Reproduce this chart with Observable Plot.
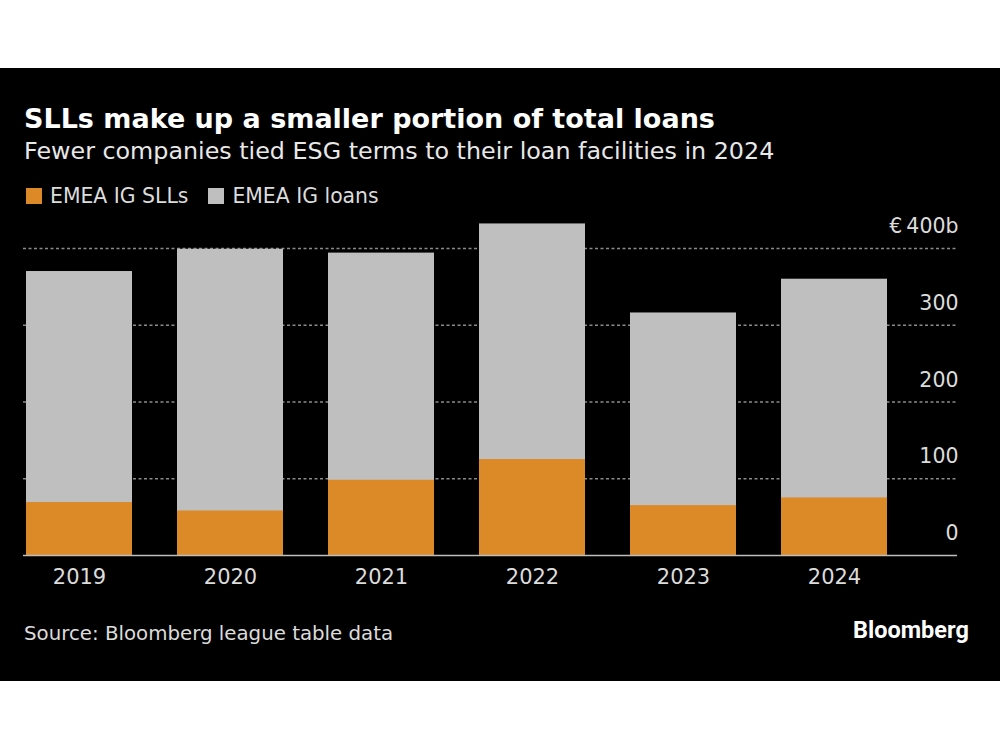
<!DOCTYPE html>
<html>
<head>
<meta charset="utf-8">
<script src="https://cdn.jsdelivr.net/npm/d3@7"></script>
<script src="https://cdn.jsdelivr.net/npm/@observablehq/plot@0.6"></script>
<style>
  html, body { margin: 0; padding: 0; background: #fff; width: 1000px; height: 750px; overflow: hidden; }
  #panel { position: absolute; left: 0; top: 68px; width: 1000px; height: 613px; background: #000; }
  .t { position: absolute; white-space: nowrap; font-family: "DejaVu Sans", sans-serif; }
  #title { left: 24px; top: 103px; font-size: 27px; font-weight: bold; color: #fff; }
  #subtitle { left: 24px; top: 137px; font-size: 23.8px; color: #e8e8e8; }
  #legend { left: 26px; top: 184px; font-size: 20.4px; color: #dcdcdc; display: flex; align-items: center; }
  .sw { display: inline-block; width: 16px; height: 16px; margin-right: 8px; }
  .item { display: flex; align-items: center; margin-right: 20px; }
  #chart { position: absolute; left: 0; top: 210px; }
  #source { left: 24px; top: 622px; font-size: 19.8px; color: #dcdcdc; }
  #logo { left: 853px; top: 616px; font-size: 23.5px; font-weight: bold; color: #fff; font-family: Roboto, "DejaVu Sans", sans-serif; }
</style>
</head>
<body>
<div id="panel"></div>
<div class="t" id="title">SLLs make up a smaller portion of total loans</div>
<div class="t" id="subtitle">Fewer companies tied ESG terms to their loan facilities in 2024</div>
<div class="t" id="legend"></div>
<div id="chart"></div>
<div class="t" id="source">Source: Bloomberg league table data</div>
<div class="t" id="logo">Bloomberg</div>
<script>
const years = ["2019", "2020", "2021", "2022", "2023", "2024"];
const igLoans = [370, 399, 394, 432, 316, 360];
const igSLLs = [69, 58, 98, 125, 65, 75];
const yTicks = [0, 100, 200, 300, 400];
const seriesNames = ["EMEA IG SLLs", "EMEA IG loans"];
const seriesColors = ["#db8a27", "#bfbfbf"];

const rows = years.map((y, i) => ({year: y, loans: igLoans[i], slls: igSLLs[i]}));

// legend
const legend = document.getElementById("legend");
seriesNames.forEach((n, i) => {
  const it = document.createElement("span");
  it.className = "item";
  it.innerHTML = `<span class="sw" style="background:${seriesColors[i]}"></span>${n}`;
  legend.appendChild(it);
});

const chart = Plot.plot({
  width: 1000,
  height: 400,
  marginTop: 38,
  marginBottom: 55,
  marginLeft: 23,
  marginRight: 43,
  style: {background: "transparent", color: "#dcdcdc", fontFamily: "DejaVu Sans, sans-serif", fontSize: "21px"},
  x: {type: "band", domain: years, range: [23, 889], paddingInner: 0.3, paddingOuter: 0, align: 0.5},
  y: {domain: [0, 400], range: [345, 38]},
  marks: [
    Plot.ruleY(yTicks.filter(d => d > 0), {stroke: "#8a8a8a", strokeWidth: 1.3, strokeDasharray: "3,2.5"}),
    Plot.barY(rows, {x: "year", y: "loans", fill: seriesColors[1]}),
    Plot.barY(rows, {x: "year", y: "slls", fill: seriesColors[0]}),
    Plot.ruleY([0], {stroke: "#bdbdbd", strokeWidth: 1.5}),
    Plot.axisX({tickSize: 0, tickPadding: 14, fontSize: 21, label: null, color: "#dcdcdc"}),
    Plot.axisY({anchor: "right", ticks: yTicks, tickSize: 0, tickPadding: 0, dx: 1, dy: -22, textAnchor: "end",
      tickFormat: d => d === 400 ? "€\u2009400b" : String(d), fontSize: 20.5, label: null, color: "#dcdcdc"})
  ]
});
document.getElementById("chart").appendChild(chart);
</script>
</body>
</html>
